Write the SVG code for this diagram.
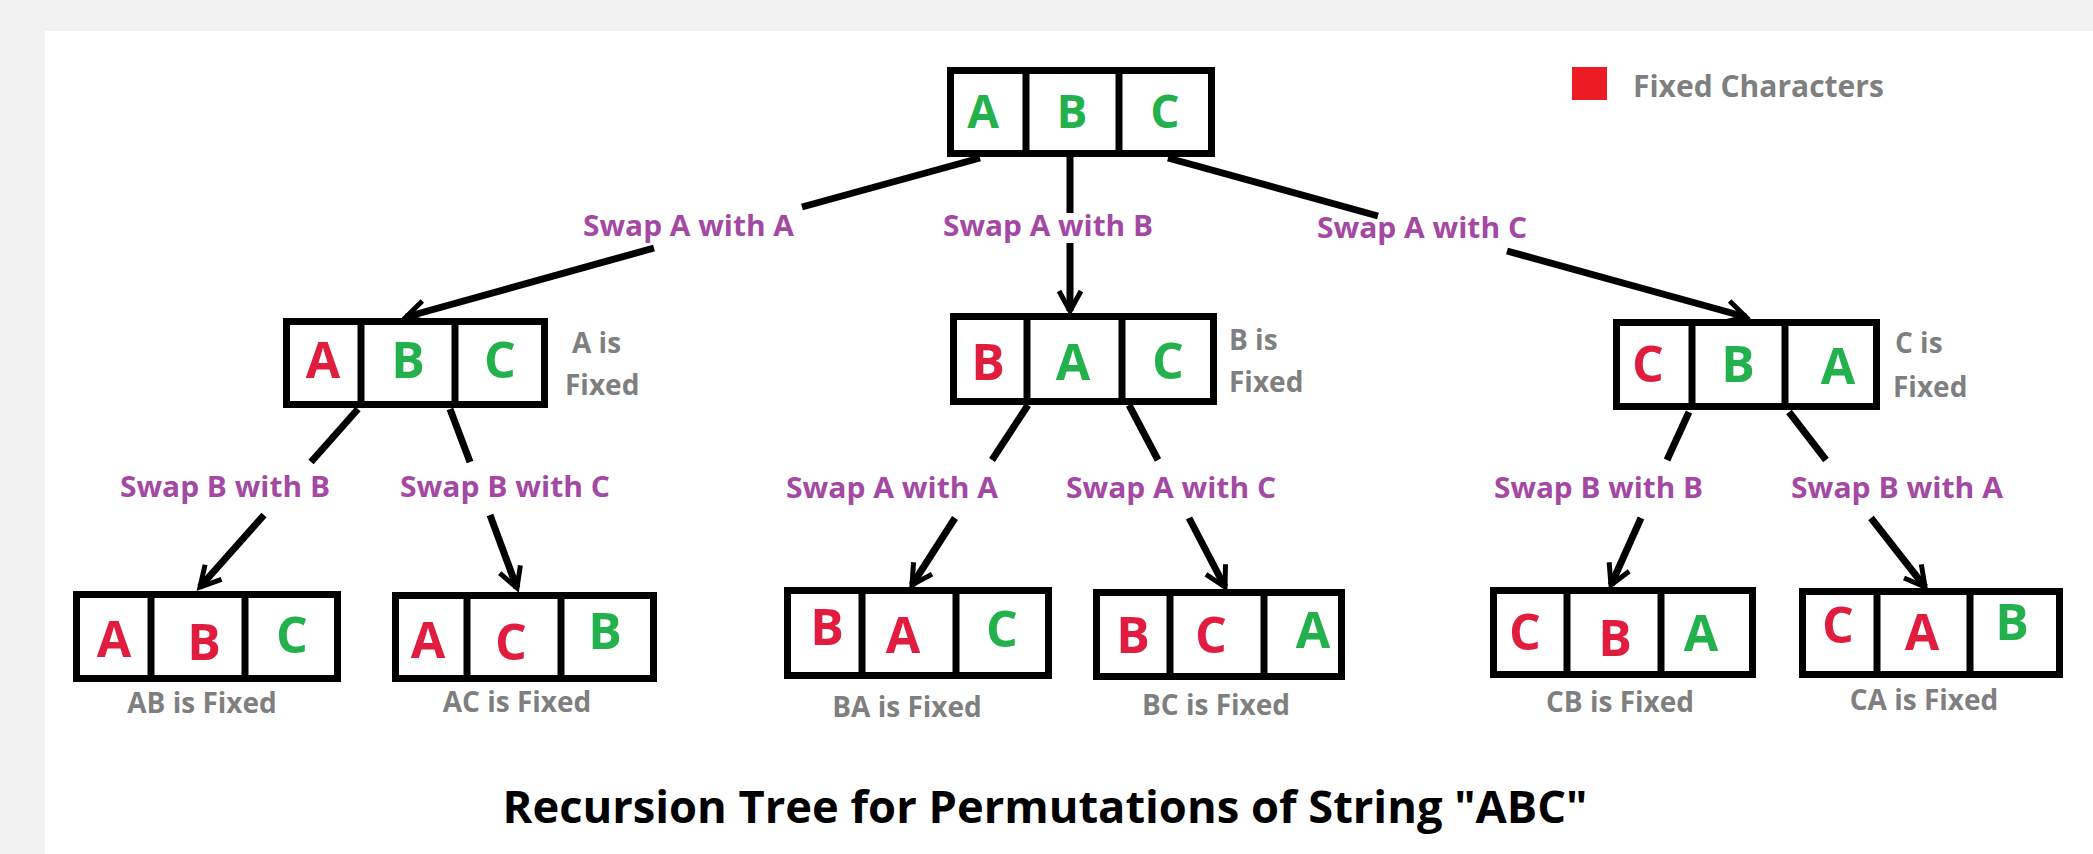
<svg xmlns="http://www.w3.org/2000/svg" width="2093" height="854" viewBox="0 0 2093 854">
<style>
.box{fill:#ffffff;stroke:#000;stroke-width:7}
.div{stroke:#000;stroke-width:7}
.l{font-family:"Open Sans","Liberation Sans",sans-serif;font-weight:700;text-anchor:middle}
.g{fill:#22B14C}
.r{fill:#E11D3F}
.t0{font-size:46px}
.t1{font-size:50px}
.gray{font-family:"Open Sans","Liberation Sans",sans-serif;font-weight:700;fill:#7F7F7F;font-size:28px}
.cap{font-family:"Open Sans","Liberation Sans",sans-serif;font-weight:700;fill:#7F7F7F;font-size:28px;text-anchor:middle}
.lab{font-family:"Open Sans","Liberation Sans",sans-serif;font-weight:700;fill:#A349A4;font-size:29px}
.edge{stroke:#000;stroke-width:7;fill:none;stroke-linecap:butt}
.title{font-family:"Open Sans","Liberation Sans",sans-serif;font-weight:700;fill:#000;font-size:44px;text-anchor:middle}
</style>
<defs>
<marker id="arr" markerUnits="userSpaceOnUse" markerWidth="40" markerHeight="40" viewBox="-30 -20 40 40" refX="0" refY="0" orient="auto">
<path d="M-20,-11 L0,0 L-20,11" fill="none" stroke="#000" stroke-width="5"/>
</marker>
</defs>
<rect x="0" y="0" width="2093" height="854" fill="#f2f2f2"/>
<rect x="45" y="31" width="2048" height="823" fill="#ffffff"/>

<g id="connectors">
<line class="edge" x1="980" y1="158" x2="802" y2="207"/>
<line class="edge" x1="654" y1="248" x2="406" y2="317" marker-end="url(#arr)"/>
<line class="edge" x1="1070" y1="157" x2="1070" y2="213"/>
<line class="edge" x1="1070" y1="243" x2="1070" y2="311" marker-end="url(#arr)"/>
<line class="edge" x1="1168" y1="158" x2="1378" y2="216"/>
<line class="edge" x1="1507" y1="251" x2="1746" y2="317" marker-end="url(#arr)"/>
<line class="edge" x1="358" y1="409" x2="311" y2="462"/>
<line class="edge" x1="264" y1="515" x2="200" y2="587" marker-end="url(#arr)"/>
<line class="edge" x1="450" y1="409" x2="470" y2="462"/>
<line class="edge" x1="490" y1="515" x2="517" y2="588" marker-end="url(#arr)"/>
<line class="edge" x1="1028" y1="405" x2="992" y2="460"/>
<line class="edge" x1="955" y1="518" x2="912" y2="585" marker-end="url(#arr)"/>
<line class="edge" x1="1129" y1="405" x2="1158" y2="460"/>
<line class="edge" x1="1189" y1="518" x2="1225" y2="587" marker-end="url(#arr)"/>
<line class="edge" x1="1689" y1="412" x2="1667" y2="460"/>
<line class="edge" x1="1641" y1="518" x2="1611" y2="585" marker-end="url(#arr)"/>
<line class="edge" x1="1789" y1="412" x2="1826" y2="460"/>
<line class="edge" x1="1871" y1="518" x2="1925" y2="587" marker-end="url(#arr)"/>
<text class="lab" x="583" y="236" textLength="211" lengthAdjust="spacingAndGlyphs">Swap A with A</text>
<text class="lab" x="943" y="236" textLength="210" lengthAdjust="spacingAndGlyphs">Swap A with B</text>
<text class="lab" x="1317" y="238" textLength="210" lengthAdjust="spacingAndGlyphs">Swap A with C</text>
<text class="lab" x="120" y="497" textLength="210" lengthAdjust="spacingAndGlyphs">Swap B with B</text>
<text class="lab" x="400" y="497" textLength="210" lengthAdjust="spacingAndGlyphs">Swap B with C</text>
<text class="lab" x="786" y="498" textLength="212" lengthAdjust="spacingAndGlyphs">Swap A with A</text>
<text class="lab" x="1066" y="498" textLength="210" lengthAdjust="spacingAndGlyphs">Swap A with C</text>
<text class="lab" x="1494" y="498" textLength="209" lengthAdjust="spacingAndGlyphs">Swap B with B</text>
<text class="lab" x="1791" y="498" textLength="212" lengthAdjust="spacingAndGlyphs">Swap B with A</text>
</g>

<g id="legend">
<rect x="1572" y="67" width="35" height="33" fill="#ED1C24"/>
<text class="gray" x="1633" y="97" font-size="30" style="font-size:30px">Fixed Characters</text>
</g>

<g id="n0">
<rect class="box" x="950.5" y="70.5" width="261" height="83"/>
<line class="div" x1="1026" y1="70" x2="1026" y2="154"/>
<line class="div" x1="1119" y1="70" x2="1119" y2="154"/>
<text class="l t0 g" x="983" y="128">A</text>
<text class="l t0 g" x="1072" y="128">B</text>
<text class="l t0 g" x="1165" y="128">C</text>
</g>

<g id="n1">
<rect class="box" x="286.5" y="321.5" width="258" height="83"/>
<line class="div" x1="361" y1="321" x2="361" y2="405"/>
<line class="div" x1="455" y1="321" x2="455" y2="405"/>
<text class="l t1 r" x="323" y="378">A</text>
<text class="l t1 g" x="408" y="378">B</text>
<text class="l t1 g" x="500" y="378">C</text>
<text class="gray" x="572" y="353">A is</text>
<text class="gray" x="565" y="395">Fixed</text>
</g>

<g id="n2">
<rect class="box" x="953.5" y="316.5" width="260" height="85"/>
<line class="div" x1="1027" y1="316" x2="1027" y2="402"/>
<line class="div" x1="1122" y1="316" x2="1122" y2="402"/>
<text class="l t1 r" x="988" y="380">B</text>
<text class="l t1 g" x="1073" y="380">A</text>
<text class="l t1 g" x="1168" y="379">C</text>
<text class="gray" x="1229" y="350">B is</text>
<text class="gray" x="1229" y="392">Fixed</text>
</g>

<g id="n3">
<rect class="box" x="1616.5" y="322.5" width="260" height="84"/>
<line class="div" x1="1692" y1="322" x2="1692" y2="407"/>
<line class="div" x1="1785" y1="322" x2="1785" y2="407"/>
<text class="l t1 r" x="1648" y="382">C</text>
<text class="l t1 g" x="1738" y="382">B</text>
<text class="l t1 g" x="1838" y="384">A</text>
<text class="gray" x="1895" y="353">C is</text>
<text class="gray" x="1893" y="397">Fixed</text>
</g>

<g id="n4">
<rect class="box" x="76.5" y="594.5" width="261" height="84"/>
<line class="div" x1="151" y1="594" x2="151" y2="679"/>
<line class="div" x1="245" y1="594" x2="245" y2="679"/>
<text class="l t1 r" x="114" y="657">A</text>
<text class="l t1 r" x="204" y="660">B</text>
<text class="l t1 g" x="292" y="653">C</text>
<text class="cap" x="202" y="713">AB is Fixed</text>
</g>

<g id="n5">
<rect class="box" x="395.5" y="595.5" width="258" height="83"/>
<line class="div" x1="467" y1="595" x2="467" y2="679"/>
<line class="div" x1="561" y1="595" x2="561" y2="679"/>
<text class="l t1 r" x="428" y="658">A</text>
<text class="l t1 r" x="511" y="660">C</text>
<text class="l t1 g" x="605" y="649">B</text>
<text class="cap" x="517" y="712">AC is Fixed</text>
</g>

<g id="n6">
<rect class="box" x="787.5" y="590.5" width="261" height="85"/>
<line class="div" x1="862" y1="590" x2="862" y2="676"/>
<line class="div" x1="956" y1="590" x2="956" y2="676"/>
<text class="l t1 r" x="827" y="645">B</text>
<text class="l t1 r" x="903" y="653">A</text>
<text class="l t1 g" x="1002" y="647">C</text>
<text class="cap" x="907" y="717">BA is Fixed</text>
</g>

<g id="n7">
<rect class="box" x="1096.5" y="592.5" width="245" height="84"/>
<line class="div" x1="1170" y1="592" x2="1170" y2="677"/>
<line class="div" x1="1264" y1="592" x2="1264" y2="677"/>
<text class="l t1 r" x="1133" y="653">B</text>
<text class="l t1 r" x="1211" y="653">C</text>
<text class="l t1 g" x="1313" y="648">A</text>
<text class="cap" x="1216" y="715">BC is Fixed</text>
</g>

<g id="n8">
<rect class="box" x="1493.5" y="590.5" width="259" height="84"/>
<line class="div" x1="1567" y1="590" x2="1567" y2="675"/>
<line class="div" x1="1661" y1="590" x2="1661" y2="675"/>
<text class="l t1 r" x="1525" y="650">C</text>
<text class="l t1 r" x="1615" y="656">B</text>
<text class="l t1 g" x="1701" y="651">A</text>
<text class="cap" x="1620" y="712">CB is Fixed</text>
</g>

<g id="n9">
<rect class="box" x="1802.5" y="591.5" width="257" height="83"/>
<line class="div" x1="1877" y1="591" x2="1877" y2="675"/>
<line class="div" x1="1970" y1="591" x2="1970" y2="675"/>
<text class="l t1 r" x="1838" y="643">C</text>
<text class="l t1 r" x="1922" y="650">A</text>
<text class="l t1 g" x="2012" y="640">B</text>
<text class="cap" x="1924" y="710">CA is Fixed</text>
</g>

<g id="title">
<text class="title" x="1045" y="823" textLength="1085" lengthAdjust="spacingAndGlyphs">Recursion Tree for Permutations of String "ABC"</text>
</g>
</svg>
